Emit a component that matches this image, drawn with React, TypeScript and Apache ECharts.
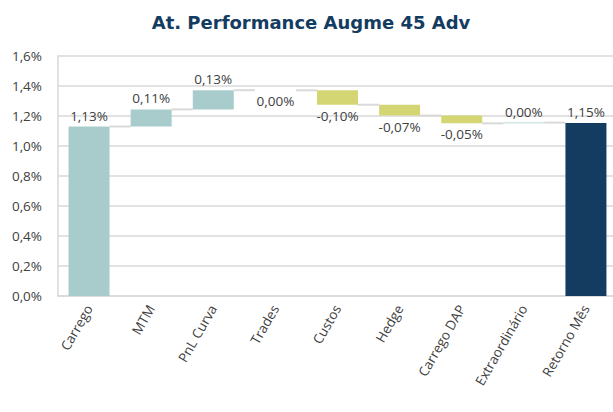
import React, { useEffect, useRef } from "react";
import * as echarts from "echarts";

const categories = ["Carrego", "MTM", "PnL Curva", "Trades", "Custos", "Hedge", "Carrego DAP", "Extraordinário", "Retorno Mês"];
// step values in % (last one is the total)
const steps = [1.13, 0.114, 0.128, -0.001, -0.096, -0.072, -0.052, 0.0049];
const totalValue = 1.154;
const yTicks = [0, 0.2, 0.4, 0.6, 0.8, 1.0, 1.2, 1.4, 1.6];

const COL_POS = "#a8cccc";
const COL_NEG = "#d4d674";
const COL_TOT = "#133c60";
const FONT = "Open Sans";

function fmt(v: number) {
  let r = Math.round(v * 100) / 100;
  if (Object.is(r, -0) || r === 0) r = 0;
  return r.toFixed(2).replace(".", ",") + "%";
}

export default function App() {
  const ref = useRef<HTMLDivElement>(null);
  useEffect(() => {
    document.body.style.margin = "0";
    const chart = echarts.init(ref.current!, null, { renderer: "svg" });
    const cum: number[] = [];
    let c = 0;
    steps.forEach((s) => {
      c += s;
      cum.push(c);
    });
    const base: number[] = [];
    const delta: any[] = [];
    steps.forEach((s, i) => {
      const before = i === 0 ? 0 : cum[i - 1];
      base.push(Math.min(before, cum[i]));
      delta.push({
        value: Math.abs(s),
        itemStyle: { color: s >= 0 ? COL_POS : COL_NEG },
        label: { position: s >= 0 ? "top" : "bottom", formatter: fmt(s) },
      });
    });
    base.push(0);
    delta.push({
      value: totalValue,
      itemStyle: { color: COL_TOT },
      label: { position: "top", formatter: fmt(totalValue) },
    });
    const connectors = cum.map((v, i) => [i, v]);
    const barRatio = 0.66;

    chart.setOption({
      animation: false,
      title: {
        text: "At. Performance Augme 45 Adv",
        left: 306,
        textAlign: "center",
        top: 8,
        textStyle: { fontFamily: "DejaVu Sans", fontWeight: 700, fontSize: 18, color: COL_TOT },
      },
      grid: { left: 58, top: 56, bottom: 116, right: 0 },
      xAxis: {
        type: "category",
        data: categories,
        axisLine: { lineStyle: { color: "#d9d9d9", width: 1.5 } },
        axisTick: { show: false },
        axisLabel: { rotate: 60, color: "#404040", fontFamily: FONT, fontSize: 13.5, margin: 10, interval: 0 },
      },
      yAxis: {
        type: "value",
        min: 0,
        max: 1.6,
        interval: 0.2,
        axisLine: { show: true, lineStyle: { color: "#d9d9d9", width: 1.5 } },
        splitLine: { lineStyle: { color: "#d9d9d9", width: 1.5 } },
        axisLabel: {
          color: "#404040",
          fontFamily: FONT,
          fontSize: 13.5,
          margin: 16,
          formatter: (v: number) => yTicks.includes(Math.round(v * 10) / 10) ? v.toFixed(1).replace(".", ",") + "%" : "",
        },
      },
      series: [
        {
          type: "custom",
          z: 1,
          data: connectors,
          renderItem: (params: any, api: any) => {
            const i = api.value(0);
            const v = api.value(1);
            const p = api.coord([i, v]);
            const band = api.size([1, 0])[0];
            const bw = band * barRatio;
            return {
              type: "line",
              shape: { x1: p[0] + bw / 2, y1: p[1], x2: p[0] + band - bw / 2, y2: p[1] },
              style: { stroke: "#d9d9d9", lineWidth: 2 },
            };
          },
        },
        {
          type: "bar",
          stack: "w",
          data: base,
          barWidth: "66%",
          itemStyle: { color: "transparent" },
          silent: true,
          z: 2,
        },
        {
          type: "bar",
          stack: "w",
          data: delta,
          barWidth: "66%",
          z: 2,
          label: {
            show: true,
            color: "#404040",
            fontFamily: FONT,
            fontSize: 13.5,
            distance: 4,
          },
        },
      ],
    });
    return () => chart.dispose();
  }, []);
  return (
    <div style={{ width: 613, height: 412, overflow: "hidden", position: "relative" }}>
      <div ref={ref} style={{ width: 617, height: 412 }} />
    </div>
  );
}
